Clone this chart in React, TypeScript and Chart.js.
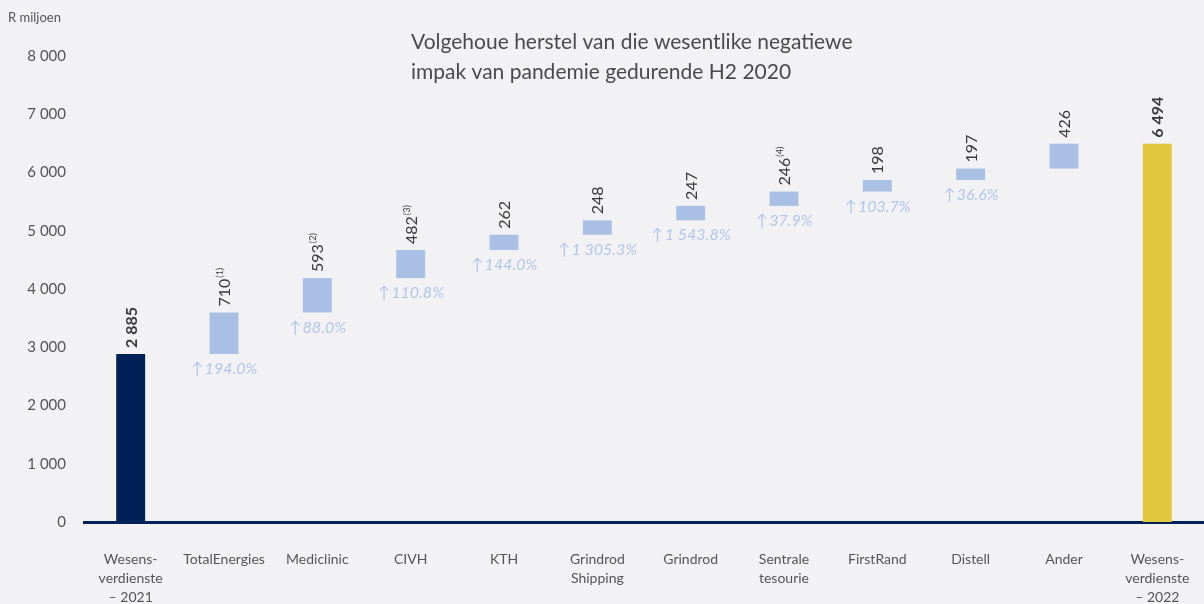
import React, { useEffect, useRef } from "react";
import { Chart, registerables } from "chart.js";

Chart.register(...registerables);

const categories: string[][] = [
  ["Wesens-", "verdienste", "– 2021"],
  ["TotalEnergies"],
  ["Mediclinic"],
  ["CIVH"],
  ["KTH"],
  ["Grindrod", "Shipping"],
  ["Grindrod"],
  ["Sentrale", "tesourie"],
  ["FirstRand"],
  ["Distell"],
  ["Ander"],
  ["Wesens-", "verdienste", "– 2022"],
];
const startValue = 2885;
const increments = [710, 593, 482, 262, 248, 247, 246, 198, 197, 426];
const endValue = 6494;
const valueLabels = ["2 885", "710", "593", "482", "262", "248", "247", "246", "198", "197", "426", "6 494"];
const footnotes = ["", "(1)", "(2)", "(3)", "", "", "", "(4)", "", "", "", ""];
const percentLabels = ["", "194.0%", "88.0%", "110.8%", "144.0%", "1 305.3%", "1 543.8%", "37.9%", "103.7%", "36.6%", "", ""];
const titleLines = ["Volgehoue herstel van die wesentlike negatiewe", "impak van pandemie gedurende H2 2020"];
const yTicks = [0, 1000, 2000, 3000, 4000, 5000, 6000, 7000, 8000];

const NAVY = "#002157";
const LIGHT = "#A9BFE4";
const YELLOW = "#E2C73C";
const FONT = "Lato, 'Noto Sans', sans-serif";

export default function App() {
  const ref = useRef<HTMLCanvasElement | null>(null);
  useEffect(() => {
    if (!ref.current) return;
    const ranges: [number, number][] = [[0, startValue]];
    let run = startValue;
    increments.forEach((v) => {
      ranges.push([run, run + v]);
      run += v;
    });
    ranges.push([0, endValue]);
    const colors = ranges.map((_, i) => (i === 0 ? NAVY : i === ranges.length - 1 ? YELLOW : LIGHT));

    const labelPlugin = {
      id: "labels",
      afterDatasetsDraw(chart: any) {
        const ctx = chart.ctx;
        const meta = chart.getDatasetMeta(0);
        meta.data.forEach((bar: any, i: number) => {
          const top = Math.min(bar.y, bar.base);
          const bottom = Math.max(bar.y, bar.base);
          const bold = i === 0 || i === meta.data.length - 1;
          ctx.save();
          ctx.translate(bar.x + 1, top - 6);
          ctx.rotate(-Math.PI / 2);
          ctx.font = `${bold ? "bold " : ""}16px ${FONT}`;
          ctx.fillStyle = "#3a3a3a";
          ctx.textAlign = "left";
          ctx.textBaseline = "middle";
          ctx.fillText(valueLabels[i], 0, 0);
          const w = ctx.measureText(valueLabels[i]).width;
          if (footnotes[i]) {
            ctx.font = `9px ${FONT}`;
            ctx.fillText(footnotes[i], w + 1, -5);
          }
          ctx.restore();
          if (percentLabels[i]) {
            ctx.save();
            ctx.fillStyle = "#B3C6E8";
            ctx.textBaseline = "middle";
            ctx.font = `16px ${FONT}`;
            const arrow = "↑";
            const aw = ctx.measureText(arrow).width;
            ctx.font = `italic 16px ${FONT}`;
            const pw = ctx.measureText(percentLabels[i]).width;
            const x0 = bar.x - (aw + pw) / 2;
            ctx.font = `16px ${FONT}`;
            ctx.textAlign = "left";
            ctx.fillText(arrow, x0, bottom + 15);
            ctx.font = `italic 16px ${FONT}`;
            ctx.fillText(percentLabels[i], x0 + aw + 1, bottom + 15);
            ctx.restore();
          }
        });
        ctx.save();
        ctx.fillStyle = "#4a4a4a";
        ctx.font = `21px ${FONT}`;
        ctx.textAlign = "left";
        ctx.textBaseline = "middle";
        ctx.fillText(titleLines[0], 411, 42);
        ctx.fillText(titleLines[1], 411, 72);
        ctx.fillStyle = "#555";
        ctx.font = `13px ${FONT}`;
        ctx.fillText("R miljoen", 8, 18);
        ctx.restore();
      },
    };

    const chart = new Chart(ref.current, {
      type: "bar",
      data: {
        labels: categories,
        datasets: [
          {
            data: ranges as any,
            backgroundColor: colors,
            borderWidth: 0,
            barPercentage: 0.31,
            categoryPercentage: 1,
          },
        ],
      },
      options: {
        animation: false,
        responsive: false,
        maintainAspectRatio: false,
        layout: { padding: { top: 56, left: 0, right: 0, bottom: 0 } },
        plugins: { legend: { display: false }, tooltip: { enabled: false }, title: { display: false } },
        scales: {
          x: {
            grid: { display: false, drawTicks: false },
            border: { display: true, color: NAVY, width: 3 },
            ticks: {
              color: "#555",
              font: { family: FONT, size: 14, lineHeight: 1.35 },
              padding: 28,
              maxRotation: 0,
              autoSkip: false,
            },
            afterFit: (s: any) => {
              s.height = 82;
              s.paddingLeft = 0;
              s.paddingRight = 0;
            },
          },
          y: {
            min: 0,
            max: 8000,
            afterBuildTicks: (s: any) => {
              s.ticks = yTicks.map((v) => ({ value: v }));
            },
            grid: { display: false, drawTicks: false },
            border: { display: false },
            ticks: {
              color: "#555",
              font: { family: FONT, size: 15 },
              padding: 18,
              callback: (v: any) => Number(v).toLocaleString("en-US").replace(/,/g, " "),
            },
            afterFit: (s: any) => {
              s.width = 84;
            },
          },
        },
      },
      plugins: [labelPlugin],
    });
    return () => chart.destroy();
  }, []);
  return (
    <div style={{ position: "fixed", left: 0, top: 0, width: 1204, height: 604, background: "#F2F2F5" }}>
      <canvas ref={ref} width={1204} height={604} style={{ width: 1204, height: 604, display: "block" }} />
    </div>
  );
}
